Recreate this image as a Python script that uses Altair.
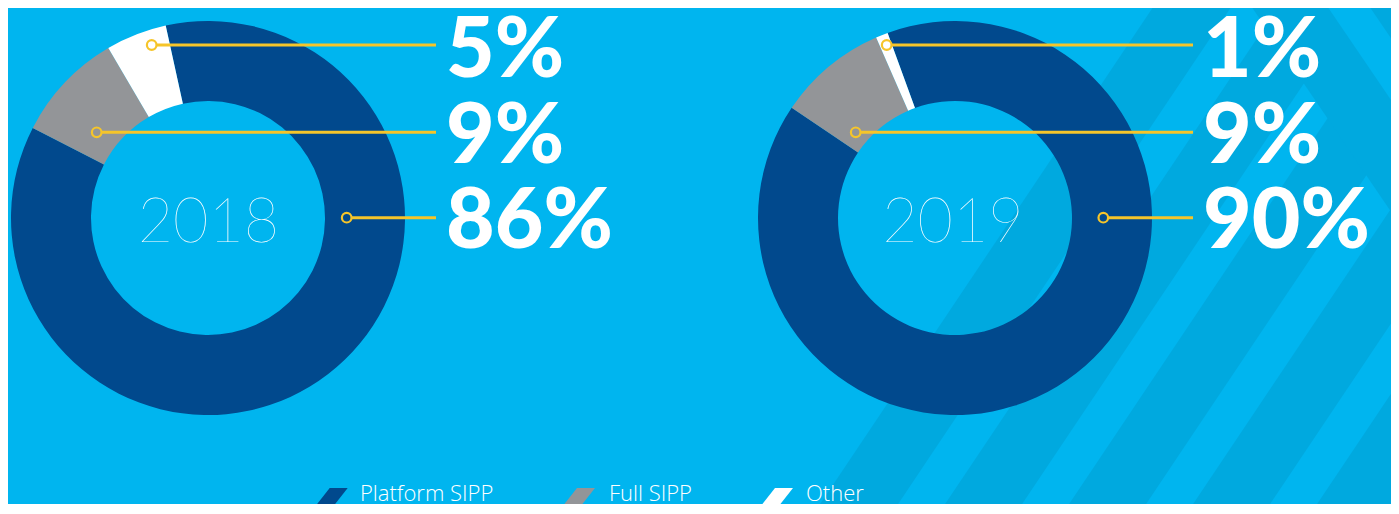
import math
import altair as alt
import pandas as pd

# ---------------- data ----------------
categories = ["Platform SIPP", "Full SIPP", "Other"]
share_2018 = [86, 9, 5]
share_2019 = [90, 9, 1]
years = ["2018", "2019"]

# ---------------- layout / style ----------------
W, H = 1383, 496
OFF = 8
BG = "#00b5ef"
STRIPE_DARK = "#00a9df"
NAVY = "#01498d"
GREY = "#939598"
WHITE = "#ffffff"
YELLOW = "#f6c52a"

XS = alt.Scale(domain=[OFF, OFF + W], nice=False, zero=False)
YS = alt.Scale(domain=[OFF, OFF + H], reverse=True, nice=False, zero=False)
COLS = alt.Scale(domain=categories, range=[NAVY, GREY, WHITE])


def X(f, **k):
    return alt.X(f, scale=XS, axis=None, **k)


def Y(f, **k):
    return alt.Y(f, scale=YS, axis=None, **k)


# ---------------- decorative background stripes ----------------
def band(rows, sid, x0, slope, width, y0=-20, y1=540):
    for yy in (y0, y1):
        xa = x0 + slope * yy
        rows.append({"id": sid, "y": yy, "x": xa, "x2": xa + width})


S = 0.67
dark_rows, light_rows, dark2_rows, light2_rows = [], [], [], []
band(dark_rows, "d0", 863 + 440 * S, -S, 900)
for k in range(6):
    band(light_rows, f"l{k}", 941 + 124 * k + 440 * S, -S, 47)
band(dark2_rows, "r0", 1247, 0.68, 600, -20, 320)
band(light2_rows, "r1", 1323, 0.68, 42, -20, 320)


def stripe_layer(rows, color):
    return alt.Chart(pd.DataFrame(rows)).mark_area(
        orient="horizontal", color=color, clip=True, opacity=1
    ).encode(
        y=Y("y:Q"),
        x=X("x:Q", stack=None),
        x2="x2:Q",
        detail="id:N",
    )


stripes = [
    stripe_layer(dark_rows, STRIPE_DARK),
    stripe_layer(light_rows, BG),
    stripe_layer(dark2_rows, STRIPE_DARK),
    stripe_layer(light2_rows, BG),
]

# ---------------- donuts ----------------
CY = 218
CX = [208, 955]
START_DEG = [-12.4, -20.0]


def donut(values, cx, start_deg):
    df = pd.DataFrame({"category": categories, "value": values, "order": [0, 1, 2]})
    st = 2 * math.pi + math.radians(start_deg)
    return alt.Chart(df).mark_arc(innerRadius=117, outerRadius=197).encode(
        theta=alt.Theta("value:Q", stack=True,
                        scale=alt.Scale(range=[st, st + 2 * math.pi])),
        color=alt.Color("category:N", scale=COLS, legend=None),
        order=alt.Order("order:Q"),
        x=alt.X(datum=cx, scale=XS, axis=None),
        y=alt.Y(datum=CY, scale=YS, axis=None),
    )


donuts = [donut(share_2018, CX[0], START_DEG[0]), donut(share_2019, CX[1], START_DEG[1])]

# ---------------- leaders & labels ----------------
label_order = [2, 1, 0]           # Other, Full SIPP, Platform SIPP (top to bottom)
leader_y = [45, 132.3, 217.7]
baseline_y = [77, 163, 248]
circle_x = [[151.7, 96.7, 346.7], [886.7, 855.7, 1103.3]]
line_end = [436, 1193]
text_x = [446, 1203]
R = 4.8

lead_rows, circ_rows, txt_rows = [], [], []
for d, shares in enumerate([share_2018, share_2019]):
    for i, ci in enumerate(label_order):
        lead_rows.append({"x": circle_x[d][i] + R + 0.5, "x2": line_end[d], "y": leader_y[i]})
        circ_rows.append({"x": circle_x[d][i], "y": leader_y[i]})
        txt_rows.append({"x": text_x[d], "y": baseline_y[i], "t": f"{shares[ci]}%"})

leaders = alt.Chart(pd.DataFrame(lead_rows)).mark_rule(color=YELLOW, strokeWidth=3).encode(
    x=X("x:Q"), x2="x2:Q", y=Y("y:Q"))
circles = alt.Chart(pd.DataFrame(circ_rows)).mark_point(
    shape="circle", filled=False, size=(2 * R) ** 2, strokeWidth=2.2, color=YELLOW, opacity=1
).encode(x=X("x:Q"), y=Y("y:Q"))
pct = alt.Chart(pd.DataFrame(txt_rows)).mark_text(
    align="left", baseline="alphabetic", font="Lato", fontWeight=900, fontSize=84, color=WHITE
).encode(x=X("x:Q"), y=Y("y:Q"), text="t:N")

year_df = pd.DataFrame({"t": years, "x": [208.5, 953], "y": [242, 242]})
year_txt = alt.Chart(year_df).mark_text(
    align="center", baseline="alphabetic", font="Lato", fontWeight=200, fontSize=61, color=WHITE
).encode(x=X("x:Q"), y=Y("y:Q"), text="t:N")

# ---------------- custom legend ----------------
leg_df = pd.DataFrame({
    "category": categories,
    "sx": [327.7, 575, 773],
    "tx": [360, 609, 806],
    "y": [502, 502, 502],
    "ty": [501, 501, 501],
})
SW_PATH = "M0.1,-0.7 L1,-0.7 L-0.1,0.7 L-1,0.7 Z"
leg_sw = alt.Chart(leg_df).mark_point(shape=SW_PATH, filled=True, size=1600, opacity=1, strokeWidth=0).encode(
    x=X("sx:Q"), y=Y("y:Q"),
    color=alt.Color("category:N", scale=COLS, legend=None))
leg_tx = alt.Chart(leg_df).mark_text(
    align="left", baseline="alphabetic", font="Open Sans", fontWeight=300, fontSize=22, color=WHITE
).encode(x=X("tx:Q"), y=Y("ty:Q"), text="category:N")

chart = alt.layer(
    *stripes, *donuts, leaders, circles, pct, year_txt, leg_sw, leg_tx
).resolve_scale(theta="independent").properties(
    width=W, height=H, background=BG, padding=0,
    autosize=alt.AutoSizeParams(type="none"),
).configure_view(stroke=None, fill=BG)

chart.save("out.html", embed_options={"renderer": "svg", "actions": False})
